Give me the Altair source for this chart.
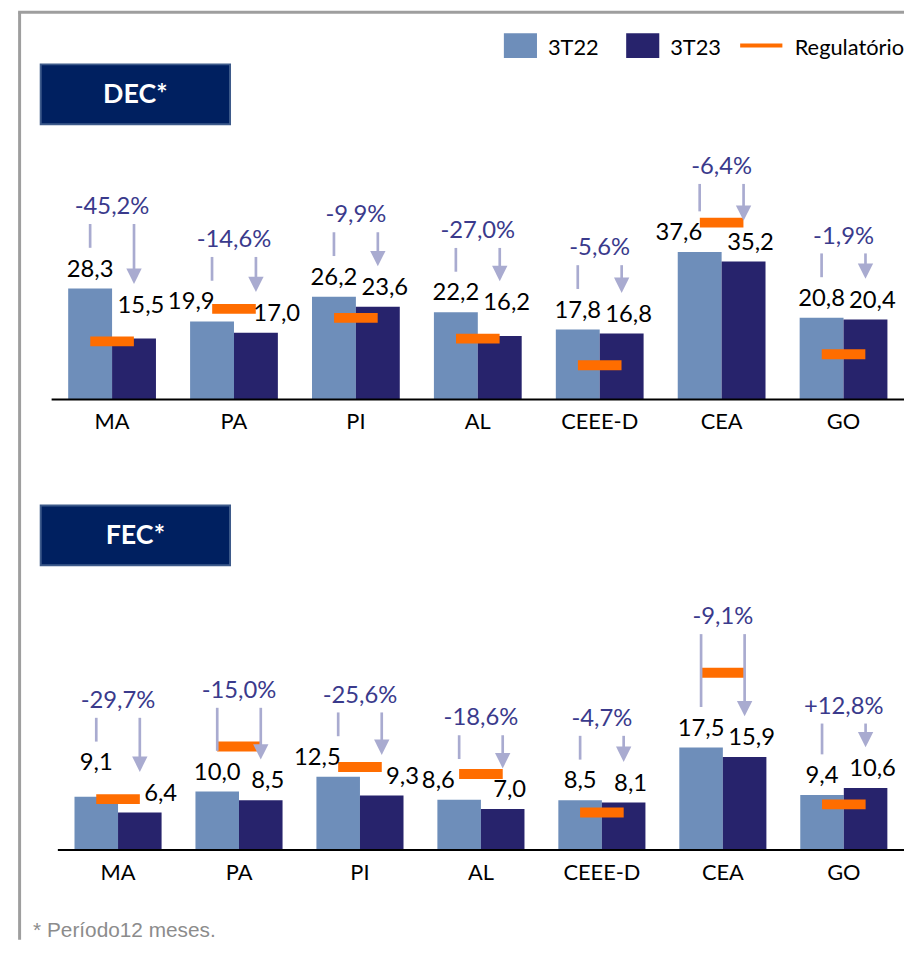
import altair as alt
import pandas as pd

# ---------------- data ----------------
cats = ["MA", "PA", "PI", "AL", "CEEE-D", "CEA", "GO"]
series = ["3T22", "3T23"]

dec_3t22 = [28.3, 19.9, 26.2, 22.2, 17.8, 37.6, 20.8]
dec_3t23 = [15.5, 17.0, 23.6, 16.2, 16.8, 35.2, 20.4]
dec_reg = [14.8, 23.1, 20.8, 15.5, 8.7, 45.1, 11.5]
dec_var = ["-45,2%", "-14,6%", "-9,9%", "-27,0%", "-5,6%", "-6,4%", "-1,9%"]

fec_3t22 = [9.1, 10.0, 12.5, 8.6, 8.5, 17.5, 9.4]
fec_3t23 = [6.4, 8.5, 9.3, 7.0, 8.1, 15.9, 10.6]
fec_reg = [8.7, 17.7, 14.2, 13.0, 6.4, 30.3, 7.8]
fec_var = ["-29,7%", "-15,0%", "-25,6%", "-18,6%", "-4,7%", "-9,1%", "+12,8%"]

legend_labels = ["3T22", "3T23", "Regulatório"]
footer = "* Período12 meses."

# ---------------- style ----------------
W, H = 904, 936
FONT = "Lato"
C22, C23, CREG = "#6E8EBA", "#27236C", "#FF6D00"
CPCT, CARR = "#3A3A8C", "#A9ABD0"
BOX, BOXSTROKE = "#002060", "#3D5A8A"


def panel(v22, v23, reg, var, base, s, dmax, xrange, axis_x0):
    xscale = alt.Scale(domain=cats, range=xrange, paddingInner=0.28, paddingOuter=0.14)
    xoscale = alt.Scale(domain=series, paddingInner=0, paddingOuter=0)
    yscale = alt.Scale(domain=[0, dmax], range=[base, base - dmax * s], nice=False, zero=True)

    def X():
        return alt.X("cat:N", scale=xscale, axis=None, sort=cats)

    def XO():
        return alt.XOffset("serie:N", scale=xoscale, sort=series)

    def Y(f):
        return alt.Y(f, scale=yscale, axis=None)

    bars_df = pd.DataFrame({"cat": cats * 2, "serie": ["3T22"] * 7 + ["3T23"] * 7,
                            "value": v22 + v23})

    # label placement (pixel gaps converted to data units)
    def label_pos(v, r, side):
        lab = v + 12 / s
        top = lab + 17 / s
        d = (v - r) * s  # marker centre relative to bar top, px (positive = below top)
        if -8 <= d <= 6:
            return r + 29 / s, (0 if side == 0 else 7)
        if (r + 5 / s) > lab + 1 / s and (r - 5 / s) < top - 1 / s:
            return lab, (-21 if side == 0 else 21)
        return lab, (0 if side == 0 else 7)

    p22 = [label_pos(a, r, 0) for a, r in zip(v22, reg)]
    p23 = [label_pos(b, r, 1) for b, r in zip(v23, reg)]
    lab22 = [p[0] for p in p22]
    lab23 = [p[0] for p in p23]
    line_bot = [l + 29 / s for l in lab22]
    tip = [l + 29 / s for l in lab23]
    top = [max(a + 24 / s, b + 24 / s, r + 39 / s) for a, b, r in zip(line_bot, tip, reg)]

    lab_df = pd.DataFrame({
        "cat": cats * 2, "serie": ["3T22"] * 7 + ["3T23"] * 7,
        "pos": lab22 + lab23,
        "dx": [p[1] for p in p22] + [p[1] for p in p23],
        "txt": [f"{v:.1f}".replace(".", ",") for v in v22 + v23],
    })
    line_df = pd.DataFrame({
        "cat": cats * 2, "serie": ["3T22"] * 7 + ["3T23"] * 7,
        "t": top + top, "b": line_bot + [t + 7 / s for t in tip],
    })
    tip_df = pd.DataFrame({"cat": cats, "serie": ["3T23"] * 7, "tip": tip})
    ann_df = pd.DataFrame({"cat": cats, "t": top, "var": var, "reg": reg, "z": [0] * 7})

    bars = alt.Chart(bars_df).mark_bar().encode(
        x=X(), xOffset=XO(), y=Y("value:Q"),
        color=alt.Color("serie:N", scale=alt.Scale(domain=series, range=[C22, C23]), legend=None),
    )
    regm = alt.Chart(ann_df).mark_tick(color=CREG, size=44, thickness=10, opacity=1).encode(
        x=X(), y=Y("reg:Q"))
    lines = alt.Chart(line_df).mark_rule(color=CARR, strokeWidth=2.7).encode(
        x=X(), xOffset=XO(), y=Y("t:Q"), y2="b:Q")
    heads = alt.Chart(tip_df).mark_point(
        shape="M-1,-2L1,-2L0,0Z", size=240, filled=True, color=CARR, opacity=1, strokeWidth=0
    ).encode(x=X(), xOffset=XO(), y=Y("tip:Q"))
    labs = []
    for d in sorted(set(lab_df["dx"])):
        labs.append(alt.Chart(lab_df).transform_filter(alt.datum.dx == d).mark_text(
            font=FONT, fontSize=24, color="black", baseline="alphabetic", align="center", dx=d
        ).encode(x=X(), xOffset=XO(), y=Y("pos:Q"), text="txt:N"))
    pct = alt.Chart(ann_df).mark_text(
        font=FONT, fontSize=24, color=CPCT, baseline="alphabetic", align="center", dy=-10
    ).encode(x=X(), y=Y("t:Q"), text="var:N")
    axis_line = alt.Chart(pd.DataFrame({"z": [0]})).mark_rule(color="black", strokeWidth=2).encode(
        x=alt.value(axis_x0), x2=alt.value(W), y=Y("z:Q"))
    catlab = alt.Chart(ann_df).mark_text(
        font=FONT, fontSize=22, color="black", baseline="alphabetic", align="center", dy=30
    ).encode(x=X(), y=Y("z:Q"), text="cat:N")

    return alt.layer(bars, regm, lines, heads, *labs, pct, axis_line, catlab)


one = pd.DataFrame({"a": [0]})

frame_left = alt.Chart(one).mark_rule(color="#9E9E9E", strokeWidth=3).encode(
    x=alt.value(11.7), y=alt.value(0), y2=alt.value(H))
frame_top = alt.Chart(one).mark_rule(color="#9E9E9E", strokeWidth=3).encode(
    x=alt.value(10.2), x2=alt.value(W), y=alt.value(0))


def title_box(txt, y0, y1):
    box = alt.Chart(one).mark_rect(fill=BOX, stroke=BOXSTROKE, strokeWidth=2).encode(
        x=alt.value(33), x2=alt.value(224), y=alt.value(y0), y2=alt.value(y1))
    t = alt.Chart(one).mark_text(text=txt, font=FONT, fontWeight="bold", fontSize=27,
                                 color="white", align="center", baseline="middle").encode(
        x=alt.value(128.5), y=alt.value((y0 + y1) / 2 + 1))
    return [box, t]


leg = []
for lbl, col, x0 in [(legend_labels[0], C22, 500.3), (legend_labels[1], C23, 623.7)]:
    leg.append(alt.Chart(one).mark_rect(fill=col).encode(
        x=alt.value(x0), x2=alt.value(x0 + 33.4), y=alt.value(21.3), y2=alt.value(46.3)))
    leg.append(alt.Chart(one).mark_text(text=lbl, font=FONT, fontSize=22, color="black",
                                        align="left", baseline="alphabetic").encode(
        x=alt.value(x0 + 44.4), y=alt.value(43.7)))
leg.append(alt.Chart(one).mark_rule(color=CREG, strokeWidth=4).encode(
    x=alt.value(738.7), x2=alt.value(781.3), y=alt.value(33.7)))
leg.append(alt.Chart(one).mark_text(text=legend_labels[2], font=FONT, fontSize=22, color="black",
                                    align="left", baseline="alphabetic").encode(
    x=alt.value(793.7), y=alt.value(43.7)))

foot = alt.Chart(one).mark_text(text=footer, font="Liberation Sans", fontSize=21, color="#8C8C8C",
                                align="left", baseline="alphabetic").encode(
    x=alt.value(25.3), y=alt.value(933.5))

dec = panel(dec_3t22, dec_3t23, dec_reg, dec_var, 390.7, 3.955, 50, [43.5, 904.5], 44)
fec = panel(fec_3t22, fec_3t23, fec_reg, fec_var, 845.3, 5.9, 35, [50.0, 904.3], 50.3)

chart = alt.layer(
    frame_left, frame_top,
    *title_box("DEC*", 52.7, 113), *title_box("FEC*", 497.7, 558),
    *leg, foot, dec, fec,
).resolve_scale(x="independent", xOffset="independent", y="independent").properties(
    width=W, height=H, padding=0,
    autosize=alt.AutoSizeParams(type="none"),
).configure_view(stroke=None)

chart.save("out.html", embed_options={"renderer": "svg", "actions": False})
